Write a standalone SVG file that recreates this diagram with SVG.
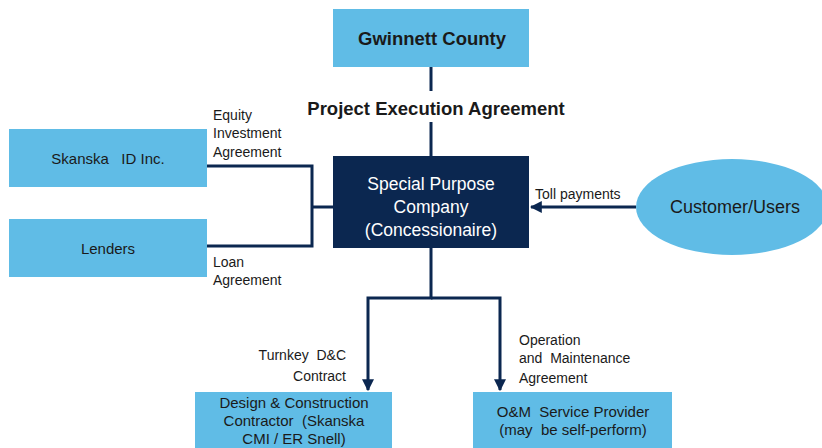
<svg xmlns="http://www.w3.org/2000/svg" width="822" height="448" viewBox="0 0 822 448">
  <style>
    .box { fill: #60BCE6; }
    .dark { fill: #0B2750; }
    .conn { fill: none; stroke: #0B2750; stroke-width: 3; }
    text { font-family: "Liberation Sans", Arial, sans-serif; fill: #1a1a1a; white-space: pre; }
    .node { font-size: 15px; text-anchor: middle; }
    .lbl { font-size: 14px; }
    .bold { font-size: 18.5px; font-weight: bold; text-anchor: middle; }
    .white { fill: #ffffff; font-size: 17.5px; text-anchor: middle; }
  </style>
  <defs>
    <marker id="arrow" viewBox="0 0 10 10" refX="9" refY="5" markerWidth="4" markerHeight="4" orient="auto" markerUnits="strokeWidth">
      <path d="M0,0 L10,5 L0,10 z" fill="#0B2750"/>
    </marker>
  </defs>

  <g id="connectors">
    <line class="conn" x1="431" y1="67" x2="431" y2="91"/>
    <line class="conn" x1="431" y1="122" x2="431" y2="156"/>
    <polyline class="conn" points="207,166 312,166 312,246 207,246"/>
    <line class="conn" x1="312" y1="207" x2="333" y2="207"/>
    <line class="conn" x1="636" y1="207" x2="531" y2="207" marker-end="url(#arrow)"/>
    <polyline class="conn" points="431,248 431,298 368,298 368,390" marker-end="url(#arrow)"/>
    <polyline class="conn" points="431,298 500,298 500,390" marker-end="url(#arrow)"/>
  </g>

  <g id="gwinnett">
    <rect class="box" x="333" y="9" width="196" height="58"/>
    <text class="bold" x="432" y="45">Gwinnett County</text>
  </g>
  <text class="bold" x="436" y="115">Project Execution Agreement</text>

  <g id="spc">
    <rect class="dark" x="333" y="156" width="196" height="92"/>
    <text class="white" x="431" y="190">Special Purpose</text>
    <text class="white" x="431" y="213">Company</text>
    <text class="white" x="431" y="236">(Concessionaire)</text>
  </g>

  <g id="skanska">
    <rect class="box" x="9" y="129" width="198" height="58"/>
    <text class="node" x="108" y="164">Skanska   ID Inc.</text>
  </g>

  <g id="lenders">
    <rect class="box" x="9" y="219" width="198" height="58"/>
    <text class="node" x="108" y="254">Lenders</text>
  </g>

  <g id="customers">
    <ellipse class="box" cx="732" cy="207" rx="96" ry="48"/>
    <text class="node" x="735" y="213" style="font-size:18px">Customer/Users</text>
  </g>

  <g id="dc-contractor">
    <rect class="box" x="195" y="392" width="197" height="60"/>
    <text class="node" x="294" y="408">Design &amp; Construction</text>
    <text class="node" x="294" y="426">Contractor  (Skanska</text>
    <text class="node" x="294" y="444">CMI / ER Snell)</text>
  </g>

  <g id="om-provider">
    <rect class="box" x="473" y="392" width="199" height="60"/>
    <text class="node" x="573" y="417">O&amp;M  Service Provider</text>
    <text class="node" x="573" y="435">(may  be self-perform)</text>
  </g>

  <g id="labels">
    <text class="lbl" x="213" y="120">Equity</text>
    <text class="lbl" x="213" y="138">Investment</text>
    <text class="lbl" x="213" y="157">Agreement</text>
    <text class="lbl" x="213" y="267">Loan</text>
    <text class="lbl" x="213" y="285">Agreement</text>
    <text class="lbl" x="535" y="199">Toll payments</text>
    <text class="lbl" x="346" y="360" text-anchor="end">Turnkey  D&amp;C</text>
    <text class="lbl" x="346" y="381" text-anchor="end">Contract</text>
    <text class="lbl" x="519" y="345">Operation</text>
    <text class="lbl" x="519" y="363">and  Maintenance</text>
    <text class="lbl" x="519" y="383">Agreement</text>
  </g>
</svg>
